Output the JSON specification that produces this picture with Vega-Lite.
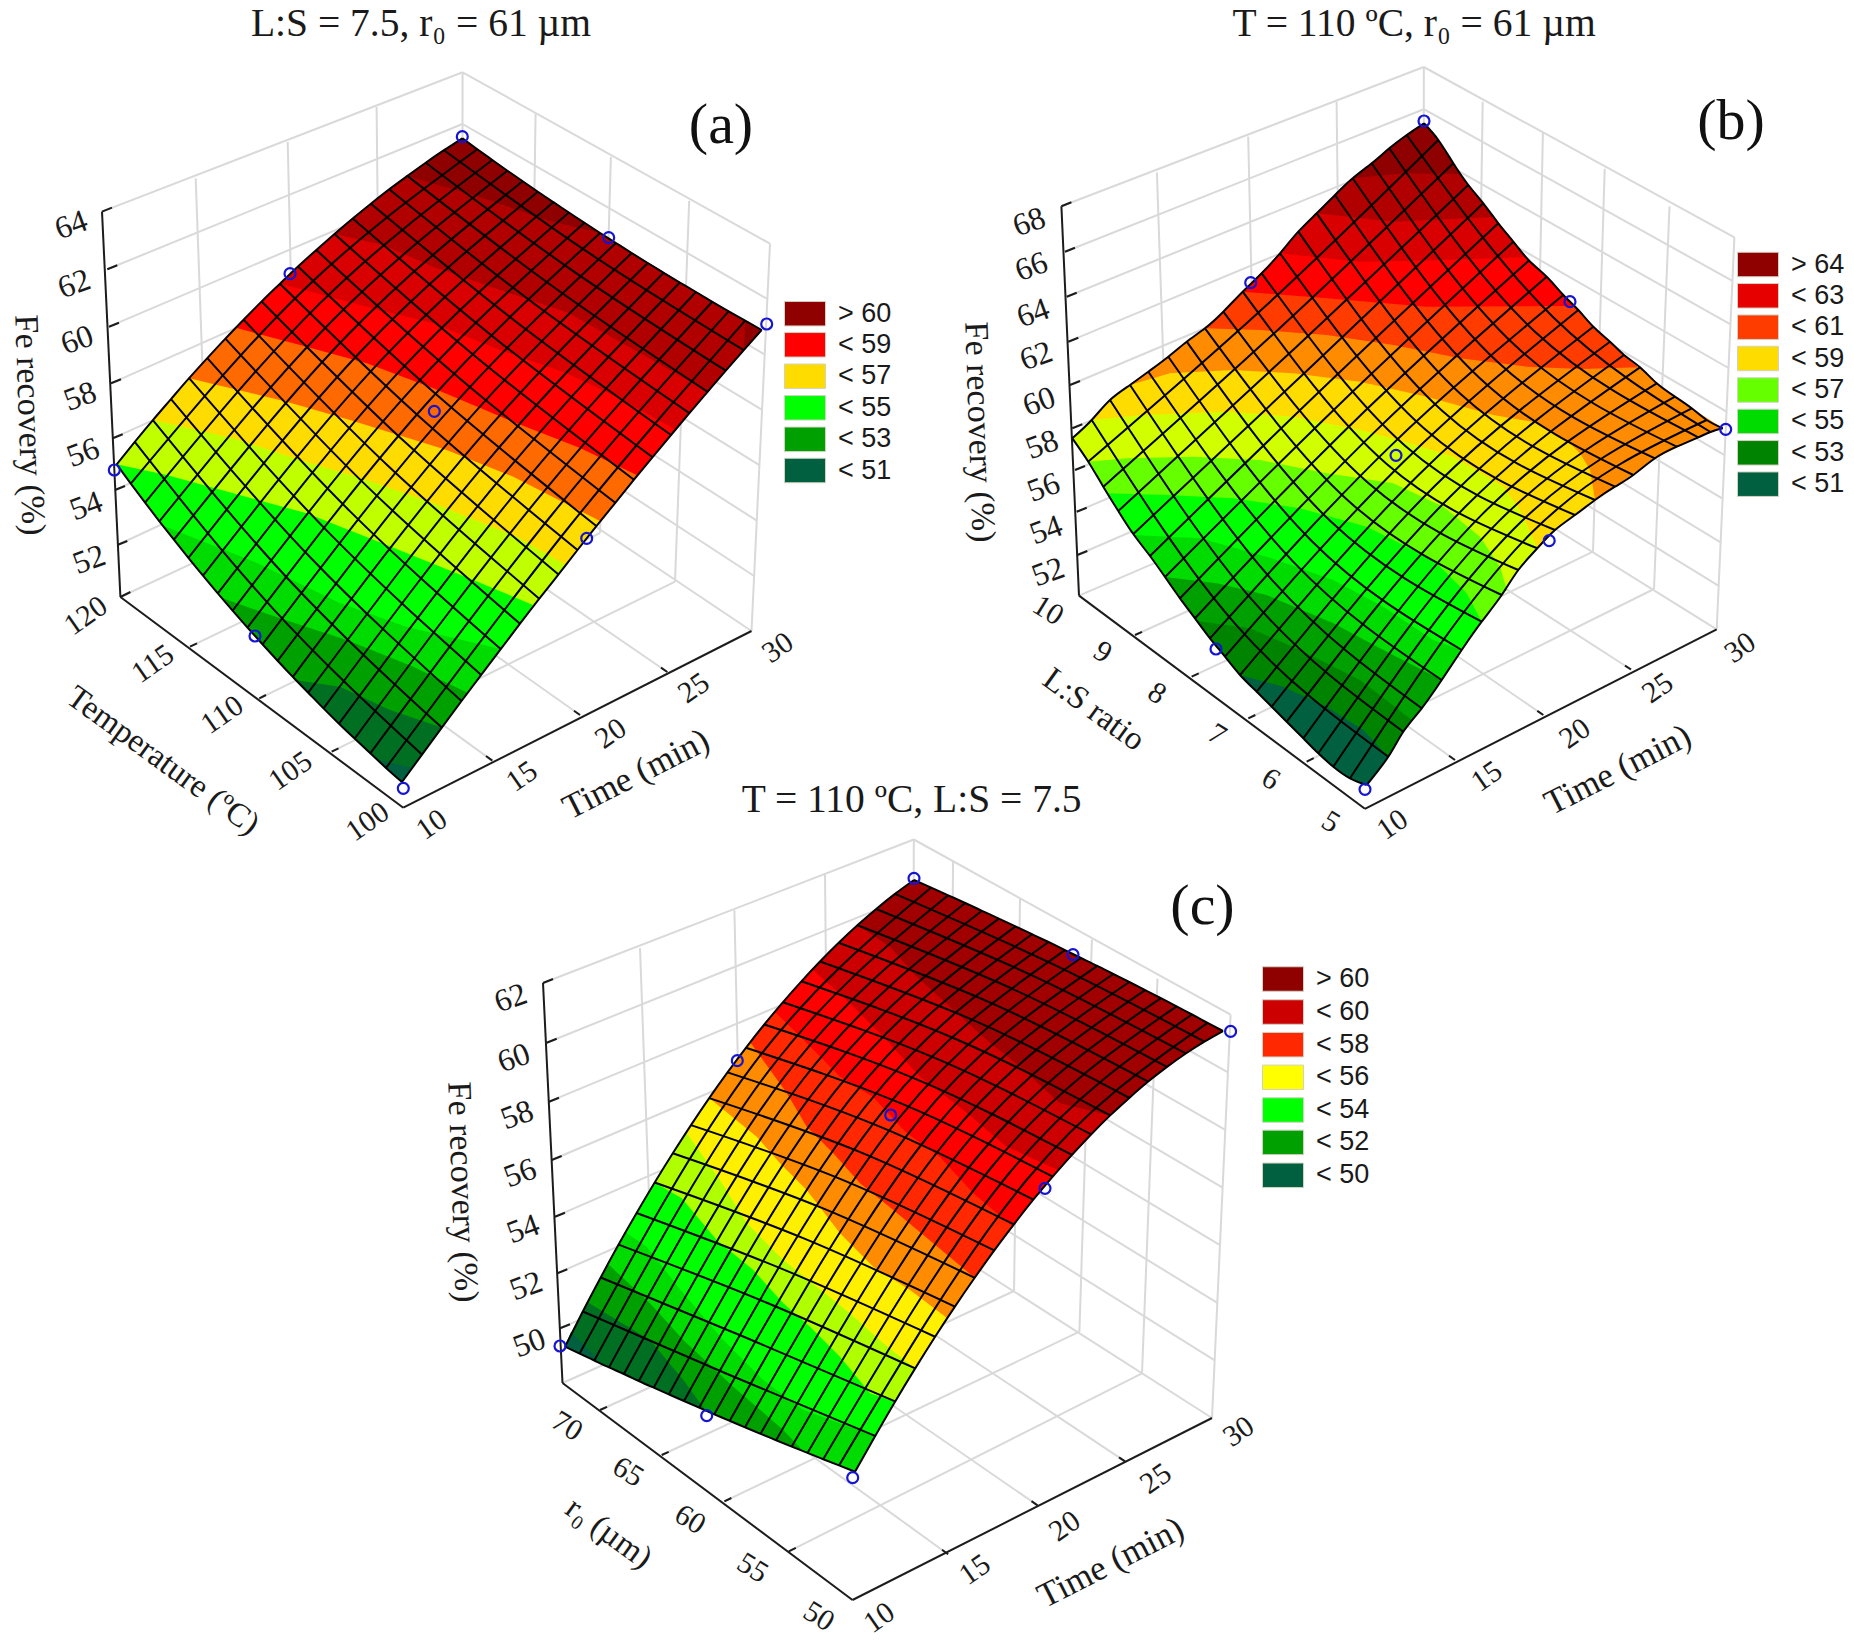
{"$schema":"https://vega.github.io/schema/vega-lite/v6.json","width":1854,"height":1642,"autosize":{"type":"fit","contains":"padding"},"padding":0,"background":"white","config":{"view":{"stroke":null}},
"datasets":{
"grid":[
{"x":102,"y":211.6,"x2":462.6,"y2":72.3},{"x":462.6,"y":72.3,"x2":770,"y2":243.7},{"x":770,"y":243.7,"x2":751.5,"y2":631},{"x":120.4,"y":597,"x2":462,"y2":437},{"x":751.5,"y":631,"x2":462,"y2":437},{"x":462.6,"y":72.3,"x2":462,"y2":437},
{"x":195.7,"y":178.4,"x2":209.2,"y2":555.4},{"x":287.7,"y":142,"x2":296.4,"y2":514.6},{"x":376.6,"y":107,"x2":380.4,"y2":475.2},
{"x":535.6,"y":114,"x2":530,"y2":483},{"x":610.9,"y":157,"x2":600,"y2":533},{"x":689.2,"y":200.9,"x2":675,"y2":581.7},
{"x":107.3,"y":269.3,"x2":462.5,"y2":124},{"x":109,"y":326.7,"x2":462.5,"y2":176},{"x":111,"y":383.3,"x2":462.4,"y2":228},{"x":112.7,"y":438.3,"x2":462.3,"y2":281},{"x":115,"y":490,"x2":462.2,"y2":333},{"x":117.3,"y":545,"x2":462.1,"y2":385},
{"x":462.5,"y":124,"x2":767.4,"y2":299},{"x":462.5,"y":176,"x2":764.7,"y2":354.5},{"x":462.4,"y":228,"x2":762.1,"y2":409.9},{"x":462.3,"y":281,"x2":759.4,"y2":465.2},{"x":462.2,"y":333,"x2":756.8,"y2":520.6},{"x":462.1,"y":385,"x2":754.1,"y2":576},
{"x":492.3,"y":760.6,"x2":209.2,"y2":555.4},{"x":580,"y":715,"x2":296.4,"y2":514.6},{"x":667.3,"y":672,"x2":380.4,"y2":475.2},{"x":190,"y":646.7,"x2":530,"y2":483},{"x":259.3,"y":698.3,"x2":600,"y2":533},{"x":331.7,"y":751.7,"x2":675,"y2":581.7},
{"x":1061.4,"y":206.2,"x2":1423.8,"y2":67},{"x":1423.8,"y":67,"x2":1734.4,"y2":237.3},{"x":1734.4,"y":237.3,"x2":1716.7,"y2":629.4},{"x":1079,"y":595.6,"x2":1424,"y2":447},{"x":1716.7,"y":629.4,"x2":1424,"y2":447},{"x":1423.8,"y":67,"x2":1424,"y2":447},
{"x":1156.9,"y":172.5,"x2":1170,"y2":556.4},{"x":1248.2,"y":136.6,"x2":1257,"y2":519},{"x":1336.6,"y":101.8,"x2":1341,"y2":482.6},
{"x":1482.7,"y":101.8,"x2":1477,"y2":480},{"x":1542.9,"y":132.8,"x2":1535,"y2":516},{"x":1604.7,"y":168.7,"x2":1593,"y2":551.7},{"x":1669.5,"y":206.2,"x2":1654,"y2":589},
{"x":1065,"y":251.7,"x2":1423.8,"y2":109.2},{"x":1066.7,"y":296.7,"x2":1423.8,"y2":151.4},{"x":1068.3,"y":341.7,"x2":1423.9,"y2":193.7},{"x":1070,"y":385,"x2":1423.9,"y2":235.9},{"x":1072.3,"y":428.3,"x2":1423.9,"y2":278.1},{"x":1075,"y":470,"x2":1423.9,"y2":320.3},{"x":1076.7,"y":511.7,"x2":1424,"y2":362.6},{"x":1077.3,"y":555,"x2":1424,"y2":404.8},
{"x":1423.8,"y":109.2,"x2":1732.4,"y2":280.9},{"x":1423.8,"y":151.4,"x2":1730.5,"y2":324.4},{"x":1423.9,"y":193.7,"x2":1728.5,"y2":368},{"x":1423.9,"y":235.9,"x2":1726.5,"y2":411.6},{"x":1423.9,"y":278.1,"x2":1724.6,"y2":455.2},{"x":1423.9,"y":320.3,"x2":1722.6,"y2":498.7},{"x":1424,"y":362.6,"x2":1720.6,"y2":542.3},{"x":1424,"y":404.8,"x2":1718.7,"y2":585.9},
{"x":1455,"y":760,"x2":1170,"y2":556.4},{"x":1543.3,"y":715,"x2":1257,"y2":519},{"x":1631,"y":669.5,"x2":1341,"y2":482.6},{"x":1135,"y":635,"x2":1477,"y2":480},{"x":1191.7,"y":676.7,"x2":1535,"y2":516},{"x":1248.3,"y":718.3,"x2":1593,"y2":551.7},{"x":1306.7,"y":761.7,"x2":1654,"y2":589},
{"x":543,"y":983,"x2":913.8,"y2":839.5},{"x":913.8,"y":839.5,"x2":1230.6,"y2":1014.7},{"x":1230.6,"y":1014.7,"x2":1212,"y2":1418},{"x":562.5,"y":1383,"x2":913,"y2":1227},{"x":1212,"y":1418,"x2":913,"y2":1227},{"x":913.8,"y":839.5,"x2":913,"y2":1227},
{"x":640,"y":948,"x2":654.3,"y2":1342},{"x":734.4,"y":910.2,"x2":743.3,"y2":1302.5},{"x":825,"y":874.6,"x2":828.9,"y2":1264.4},
{"x":953,"y":861.8,"x2":950.5,"y2":1251},{"x":1020,"y":899,"x2":1014,"y2":1291},{"x":1091.9,"y":939.6,"x2":1079.4,"y2":1331.7},{"x":1157.5,"y":978.6,"x2":1142,"y2":1373.4},
{"x":546.7,"y":1042.7,"x2":913.7,"y2":894.9},{"x":549,"y":1101.7,"x2":913.6,"y2":950.2},{"x":551.7,"y":1160,"x2":913.5,"y2":1005.6},{"x":555,"y":1216.7,"x2":913.4,"y2":1061},{"x":557.3,"y":1273.3,"x2":913.3,"y2":1116.3},{"x":560,"y":1328.3,"x2":913.1,"y2":1171.7},
{"x":913.7,"y":894.9,"x2":1228,"y2":1072.3},{"x":913.6,"y":950.2,"x2":1225.3,"y2":1129.9},{"x":913.5,"y":1005.6,"x2":1222.6,"y2":1187.6},{"x":913.4,"y":1061,"x2":1220,"y2":1245.2},{"x":913.3,"y":1116.3,"x2":1217.3,"y2":1302.8},{"x":913.1,"y":1171.7,"x2":1214.7,"y2":1360.4},
{"x":948.1,"y":1554.2,"x2":654.3,"y2":1342},{"x":1037.5,"y":1505.3,"x2":743.3,"y2":1302.5},{"x":1125,"y":1461.3,"x2":828.9,"y2":1264.4},{"x":600,"y":1410,"x2":950.5,"y2":1251},{"x":661.7,"y":1455,"x2":1014,"y2":1291},{"x":724.4,"y":1501.4,"x2":1079.4,"y2":1331.7},{"x":788.8,"y":1551.4,"x2":1142,"y2":1373.4}
],
"axes":[
{"x":102,"y":211.6,"x2":120.4,"y2":597},{"x":120.4,"y":597,"x2":403.3,"y2":807.7},{"x":403.3,"y":807.7,"x2":751.5,"y2":631},
{"x":102,"y":211.6,"x2":112,"y2":207.6},{"x":107.3,"y":269.3,"x2":117.3,"y2":265.3},{"x":109,"y":326.7,"x2":119,"y2":322.7},{"x":111,"y":383.3,"x2":121,"y2":379.3},{"x":112.7,"y":438.3,"x2":122.7,"y2":434.3},{"x":115,"y":490,"x2":125,"y2":486},{"x":117.3,"y":545,"x2":127.3,"y2":541},{"x":120.4,"y":597,"x2":130.4,"y2":592},
{"x":190,"y":646.7,"x2":197,"y2":643.3},{"x":259.3,"y":698.3,"x2":266,"y2":695},{"x":331.7,"y":751.7,"x2":338.5,"y2":748.4},{"x":492.3,"y":760.6,"x2":486,"y2":756},{"x":580,"y":715,"x2":574,"y2":710.7},{"x":667.3,"y":672,"x2":661,"y2":667.7},
{"x":1061.4,"y":206.2,"x2":1079,"y2":595.6},{"x":1079,"y":595.6,"x2":1364.9,"y2":808.8},{"x":1364.9,"y":808.8,"x2":1716.7,"y2":629.4},
{"x":1061.4,"y":206.2,"x2":1071.4,"y2":202.2},{"x":1065,"y":251.7,"x2":1075,"y2":247.7},{"x":1066.7,"y":296.7,"x2":1076.7,"y2":292.7},{"x":1068.3,"y":341.7,"x2":1078.3,"y2":337.7},{"x":1070,"y":385,"x2":1080,"y2":381},{"x":1072.3,"y":428.3,"x2":1082.3,"y2":424.3},{"x":1075,"y":470,"x2":1085,"y2":466},{"x":1076.7,"y":511.7,"x2":1086.7,"y2":507.7},{"x":1077.3,"y":555,"x2":1087.3,"y2":551},
{"x":1135,"y":635,"x2":1142,"y2":631.8},{"x":1191.7,"y":676.7,"x2":1198.7,"y2":673.4},{"x":1248.3,"y":718.3,"x2":1255.3,"y2":715},{"x":1306.7,"y":761.7,"x2":1313.7,"y2":758.2},{"x":1455,"y":760,"x2":1449,"y2":755.7},{"x":1543.3,"y":715,"x2":1537.3,"y2":710.9},{"x":1631,"y":669.5,"x2":1625,"y2":665.6},
{"x":543,"y":983,"x2":562.5,"y2":1383},{"x":562.5,"y":1383,"x2":852.5,"y2":1600},{"x":852.5,"y":1600,"x2":1212,"y2":1418},
{"x":543,"y":983,"x2":553,"y2":979},{"x":546.7,"y":1042.7,"x2":556.7,"y2":1038.7},{"x":549,"y":1101.7,"x2":559,"y2":1097.7},{"x":551.7,"y":1160,"x2":561.7,"y2":1156},{"x":555,"y":1216.7,"x2":565,"y2":1212.7},{"x":557.3,"y":1273.3,"x2":567.3,"y2":1269.3},{"x":560,"y":1328.3,"x2":570,"y2":1324.3},
{"x":600,"y":1410,"x2":607,"y2":1406.8},{"x":661.7,"y":1455,"x2":668.7,"y2":1451.8},{"x":724.4,"y":1501.4,"x2":731.4,"y2":1498},{"x":788.8,"y":1551.4,"x2":795.8,"y2":1547.9},{"x":948.1,"y":1554.2,"x2":942,"y2":1549.8},{"x":1037.5,"y":1505.3,"x2":1031.5,"y2":1501.2},{"x":1125,"y":1461.3,"x2":1119,"y2":1457.3}
],
"poly":[
{"g":"a00","b":"r1","x":462.3,"y":138.3},{"g":"a00","b":"r1","x":537.9,"y":191.8},{"g":"a00","b":"r1","x":615.9,"y":243},{"g":"a00","b":"r1","x":696,"y":292},{"g":"a00","b":"r1","x":761.7,"y":330},{"g":"a00","b":"r1","x":743.8,"y":350.2},{"g":"a00","b":"r1","x":352.7,"y":218.5},{"g":"a00","b":"r1","x":389.2,"y":189.3},{"g":"a00","b":"r1","x":425.7,"y":162.7},
{"g":"a01","b":"r2","x":407.4,"y":175.9},{"g":"a01","b":"r2","x":480,"y":197},{"g":"a01","b":"r2","x":546.7,"y":220},{"g":"a01","b":"r2","x":600,"y":233},{"g":"a01","b":"r2","x":696,"y":292},{"g":"a01","b":"r2","x":745.2,"y":320.7},{"g":"a01","b":"r2","x":743.8,"y":350.2},{"g":"a01","b":"r2","x":707.6,"y":391.8},{"g":"a01","b":"r2","x":689.4,"y":413.1},{"g":"a01","b":"r2","x":298,"y":266.5},{"g":"a01","b":"r2","x":334.5,"y":234},{"g":"a01","b":"r2","x":370.9,"y":203.7},
{"g":"a02","b":"r3","x":334.5,"y":234},{"g":"a02","b":"r3","x":383.3,"y":245},{"g":"a02","b":"r3","x":433.3,"y":266.7},{"g":"a02","b":"r3","x":500,"y":290},{"g":"a02","b":"r3","x":566.7,"y":312},{"g":"a02","b":"r3","x":646.7,"y":356.7},{"g":"a02","b":"r3","x":707.6,"y":391.8},{"g":"a02","b":"r3","x":689.4,"y":413.1},{"g":"a02","b":"r3","x":652.6,"y":457.2},{"g":"a02","b":"r3","x":243.6,"y":319.7},{"g":"a02","b":"r3","x":261.7,"y":301.4},{"g":"a02","b":"r3","x":298,"y":266.5},
{"g":"a03","b":"r4","x":280,"y":283.7},{"g":"a03","b":"r4","x":316.7,"y":293.3},{"g":"a03","b":"r4","x":366.7,"y":306.7},{"g":"a03","b":"r4","x":433.3,"y":323.3},{"g":"a03","b":"r4","x":500,"y":350},{"g":"a03","b":"r4","x":566.7,"y":373.3},{"g":"a03","b":"r4","x":616.7,"y":396.7},{"g":"a03","b":"r4","x":676,"y":430},{"g":"a03","b":"r4","x":652.6,"y":457.2},{"g":"a03","b":"r4","x":615.3,"y":502.8},{"g":"a03","b":"r4","x":207.3,"y":358.1},{"g":"a03","b":"r4","x":225.4,"y":338.6},{"g":"a03","b":"r4","x":243.6,"y":319.7},{"g":"a03","b":"r4","x":261.7,"y":301.4},
{"g":"a04","b":"o1","x":236.7,"y":328},{"g":"a04","b":"o1","x":300,"y":345},{"g":"a04","b":"o1","x":366.7,"y":363.3},{"g":"a04","b":"o1","x":433.3,"y":388.3},{"g":"a04","b":"o1","x":516.7,"y":423.3},{"g":"a04","b":"o1","x":580,"y":448},{"g":"a04","b":"o1","x":636.7,"y":475},{"g":"a04","b":"o1","x":615.3,"y":502.8},{"g":"a04","b":"o1","x":596.4,"y":526.1},{"g":"a04","b":"o1","x":577.5,"y":550},{"g":"a04","b":"o1","x":171,"y":399.1},{"g":"a04","b":"o1","x":189.1,"y":378.2},{"g":"a04","b":"o1","x":207.3,"y":358.1},
{"g":"a05","b":"y1","x":189.1,"y":378.2},{"g":"a05","b":"y1","x":286.7,"y":401.7},{"g":"a05","b":"y1","x":350,"y":420},{"g":"a05","b":"y1","x":446.7,"y":450},{"g":"a05","b":"y1","x":513.3,"y":476.7},{"g":"a05","b":"y1","x":600,"y":521},{"g":"a05","b":"y1","x":577.5,"y":550},{"g":"a05","b":"y1","x":558.5,"y":574.4},{"g":"a05","b":"y1","x":539.3,"y":598.7},{"g":"a05","b":"y1","x":134.8,"y":441.9},{"g":"a05","b":"y1","x":152.9,"y":420.1},{"g":"a05","b":"y1","x":171,"y":399.1},
{"g":"a06","b":"l1","x":152.9,"y":420.1},{"g":"a06","b":"l1","x":233.3,"y":438.3},{"g":"a06","b":"l1","x":300,"y":460},{"g":"a06","b":"l1","x":366.7,"y":480},{"g":"a06","b":"l1","x":433.3,"y":503.3},{"g":"a06","b":"l1","x":516.7,"y":536.7},{"g":"a06","b":"l1","x":566,"y":565},{"g":"a06","b":"l1","x":539.3,"y":598.7},{"g":"a06","b":"l1","x":520,"y":623.7},{"g":"a06","b":"l1","x":116.7,"y":464.3},{"g":"a06","b":"l1","x":134.8,"y":441.9},
{"g":"a07","b":"g1","x":116.7,"y":464.3},{"g":"a07","b":"g1","x":166.7,"y":475},{"g":"a07","b":"g1","x":233.3,"y":493.3},{"g":"a07","b":"g1","x":306.7,"y":513.3},{"g":"a07","b":"g1","x":386.7,"y":545},{"g":"a07","b":"g1","x":473.3,"y":580},{"g":"a07","b":"g1","x":533,"y":605},{"g":"a07","b":"g1","x":520,"y":623.7},{"g":"a07","b":"g1","x":500.7,"y":649.1},{"g":"a07","b":"g1","x":481.2,"y":674.9},{"g":"a07","b":"g1","x":173.9,"y":539.7},{"g":"a07","b":"g1","x":159.4,"y":521.3},{"g":"a07","b":"g1","x":145.1,"y":502.6},{"g":"a07","b":"g1","x":130.8,"y":483.6},
{"g":"a08","b":"g2","x":164,"y":526},{"g":"a08","b":"g2","x":257,"y":563},{"g":"a08","b":"g2","x":340,"y":603},{"g":"a08","b":"g2","x":407,"y":627},{"g":"a08","b":"g2","x":500.7,"y":649.1},{"g":"a08","b":"g2","x":481.2,"y":674.9},{"g":"a08","b":"g2","x":461.5,"y":701},{"g":"a08","b":"g2","x":441.8,"y":727.6},{"g":"a08","b":"g2","x":232.6,"y":610.6},{"g":"a08","b":"g2","x":217.8,"y":593.3},{"g":"a08","b":"g2","x":203,"y":575.7},{"g":"a08","b":"g2","x":188.4,"y":557.9},{"g":"a08","b":"g2","x":173.9,"y":539.7},
{"g":"a09","b":"g3","x":222,"y":598},{"g":"a09","b":"g3","x":280,"y":618.3},{"g":"a09","b":"g3","x":346.7,"y":640},{"g":"a09","b":"g3","x":413.3,"y":666.7},{"g":"a09","b":"g3","x":468,"y":693},{"g":"a09","b":"g3","x":441.8,"y":727.6},{"g":"a09","b":"g3","x":422,"y":754.6},{"g":"a09","b":"g3","x":323.5,"y":708.4},{"g":"a09","b":"g3","x":308.2,"y":692.7},{"g":"a09","b":"g3","x":292.8,"y":676.9},{"g":"a09","b":"g3","x":277.6,"y":660.8},{"g":"a09","b":"g3","x":262.5,"y":644.3},{"g":"a09","b":"g3","x":247.5,"y":627.6},{"g":"a09","b":"g3","x":232.6,"y":610.6},
{"g":"a10","b":"g4","x":295,"y":680},{"g":"a10","b":"g4","x":340,"y":686.7},{"g":"a10","b":"g4","x":390,"y":710},{"g":"a10","b":"g4","x":441.8,"y":727.6},{"g":"a10","b":"g4","x":422,"y":754.6},{"g":"a10","b":"g4","x":402,"y":782},{"g":"a10","b":"g4","x":386,"y":767.9},{"g":"a10","b":"g4","x":354.6,"y":738.6},{"g":"a10","b":"g4","x":323.5,"y":708.4},{"g":"a10","b":"g4","x":308.2,"y":692.7},
{"g":"a11","b":"g5","x":378,"y":760},{"g":"a11","b":"g5","x":412,"y":768},{"g":"a11","b":"g5","x":402,"y":782},{"g":"a11","b":"g5","x":386,"y":767.9},
{"g":"b00","b":"r1","x":1424,"y":123.3},{"g":"b00","b":"r1","x":1438.3,"y":140},{"g":"b00","b":"r1","x":1453.3,"y":163.3},{"g":"b00","b":"r1","x":1468.3,"y":185},{"g":"b00","b":"r1","x":1498.3,"y":223.3},{"g":"b00","b":"r1","x":1529,"y":260.5},{"g":"b00","b":"r1","x":1280,"y":253.3},{"g":"b00","b":"r1","x":1316.7,"y":213.3},{"g":"b00","b":"r1","x":1352.7,"y":178.3},{"g":"b00","b":"r1","x":1389.3,"y":148.3},{"g":"b00","b":"r1","x":1406.7,"y":135},
{"g":"b01","b":"r2","x":1352.7,"y":178.3},{"g":"b01","b":"r2","x":1403.3,"y":173.3},{"g":"b01","b":"r2","x":1460,"y":174},{"g":"b01","b":"r2","x":1468.3,"y":185},{"g":"b01","b":"r2","x":1498.3,"y":223.3},{"g":"b01","b":"r2","x":1529,"y":260.5},{"g":"b01","b":"r2","x":1563.3,"y":295},{"g":"b01","b":"r2","x":1242.7,"y":291.7},{"g":"b01","b":"r2","x":1280,"y":253.3},{"g":"b01","b":"r2","x":1316.7,"y":213.3},
{"g":"b02","b":"r3","x":1316.7,"y":213.3},{"g":"b02","b":"r3","x":1393.3,"y":221.7},{"g":"b02","b":"r3","x":1494,"y":217},{"g":"b02","b":"r3","x":1529,"y":260.5},{"g":"b02","b":"r3","x":1563.3,"y":295},{"g":"b02","b":"r3","x":1578.3,"y":310},{"g":"b02","b":"r3","x":1223.3,"y":311.7},{"g":"b02","b":"r3","x":1242.7,"y":291.7},{"g":"b02","b":"r3","x":1280,"y":253.3},
{"g":"b03","b":"r4","x":1280,"y":253.3},{"g":"b03","b":"r4","x":1360,"y":261.7},{"g":"b03","b":"r4","x":1443.3,"y":260},{"g":"b03","b":"r4","x":1526,"y":257},{"g":"b03","b":"r4","x":1563.3,"y":295},{"g":"b03","b":"r4","x":1593.3,"y":326.7},{"g":"b03","b":"r4","x":1223.3,"y":311.7},{"g":"b03","b":"r4","x":1242.7,"y":291.7},
{"g":"b04","b":"r5","x":1242.7,"y":291.7},{"g":"b04","b":"r5","x":1326.7,"y":298.3},{"g":"b04","b":"r5","x":1426.7,"y":306.7},{"g":"b04","b":"r5","x":1573,"y":306},{"g":"b04","b":"r5","x":1593.3,"y":326.7},{"g":"b04","b":"r5","x":1624,"y":355},{"g":"b04","b":"r5","x":1656.7,"y":383.3},{"g":"b04","b":"r5","x":1186.7,"y":341.7},{"g":"b04","b":"r5","x":1205,"y":328.3},{"g":"b04","b":"r5","x":1223.3,"y":311.7},
{"g":"b05","b":"o2","x":1205,"y":328.3},{"g":"b05","b":"o2","x":1260,"y":330},{"g":"b05","b":"o2","x":1326.7,"y":335},{"g":"b05","b":"o2","x":1393.3,"y":345},{"g":"b05","b":"o2","x":1460,"y":358.3},{"g":"b05","b":"o2","x":1526.7,"y":366.7},{"g":"b05","b":"o2","x":1580,"y":369},{"g":"b05","b":"o2","x":1640,"y":367.3},{"g":"b05","b":"o2","x":1656.7,"y":383.3},{"g":"b05","b":"o2","x":1691.7,"y":408.3},{"g":"b05","b":"o2","x":1722.7,"y":428.3},{"g":"b05","b":"o2","x":1698.3,"y":437.3},{"g":"b05","b":"o2","x":1655,"y":458.3},{"g":"b05","b":"o2","x":1615,"y":486.7},{"g":"b05","b":"o2","x":1595,"y":500},{"g":"b05","b":"o2","x":1575,"y":515},{"g":"b05","b":"o2","x":1110,"y":400},{"g":"b05","b":"o2","x":1130,"y":385},{"g":"b05","b":"o2","x":1148.3,"y":371.7},{"g":"b05","b":"o2","x":1168.3,"y":356.7},{"g":"b05","b":"o2","x":1186.7,"y":341.7},
{"g":"b06","b":"y1","x":1130,"y":385},{"g":"b06","b":"y1","x":1170,"y":373.3},{"g":"b06","b":"y1","x":1233.3,"y":370},{"g":"b06","b":"y1","x":1293.3,"y":373.3},{"g":"b06","b":"y1","x":1360,"y":381.7},{"g":"b06","b":"y1","x":1426.7,"y":396.7},{"g":"b06","b":"y1","x":1493.3,"y":415},{"g":"b06","b":"y1","x":1533.3,"y":422},{"g":"b06","b":"y1","x":1566.7,"y":440},{"g":"b06","b":"y1","x":1580,"y":453.3},{"g":"b06","b":"y1","x":1590,"y":470},{"g":"b06","b":"y1","x":1595,"y":500},{"g":"b06","b":"y1","x":1575,"y":515},{"g":"b06","b":"y1","x":1555,"y":530},{"g":"b06","b":"y1","x":1537.3,"y":548.3},{"g":"b06","b":"y1","x":1518.3,"y":570},{"g":"b06","b":"y1","x":1072.3,"y":438.3},{"g":"b06","b":"y1","x":1091.7,"y":420},{"g":"b06","b":"y1","x":1110,"y":400},
{"g":"b07","b":"l2","x":1091.7,"y":420},{"g":"b07","b":"l2","x":1143.3,"y":415},{"g":"b07","b":"l2","x":1226.7,"y":411.7},{"g":"b07","b":"l2","x":1293.3,"y":416.7},{"g":"b07","b":"l2","x":1360,"y":430},{"g":"b07","b":"l2","x":1410,"y":443.3},{"g":"b07","b":"l2","x":1453.3,"y":456.7},{"g":"b07","b":"l2","x":1503.3,"y":486.7},{"g":"b07","b":"l2","x":1520,"y":510},{"g":"b07","b":"l2","x":1537.3,"y":548.3},{"g":"b07","b":"l2","x":1518.3,"y":570},{"g":"b07","b":"l2","x":1501.7,"y":595},{"g":"b07","b":"l2","x":1481.7,"y":621.7},{"g":"b07","b":"l2","x":1103.3,"y":486.7},{"g":"b07","b":"l2","x":1088.3,"y":461.7},{"g":"b07","b":"l2","x":1072.3,"y":438.3},
{"g":"b08","b":"l3","x":1088.3,"y":461.7},{"g":"b08","b":"l3","x":1126.7,"y":458.3},{"g":"b08","b":"l3","x":1193.3,"y":456.7},{"g":"b08","b":"l3","x":1260,"y":460},{"g":"b08","b":"l3","x":1326.7,"y":473.3},{"g":"b08","b":"l3","x":1393.3,"y":483.3},{"g":"b08","b":"l3","x":1443.3,"y":506.7},{"g":"b08","b":"l3","x":1480,"y":536.7},{"g":"b08","b":"l3","x":1500,"y":566.7},{"g":"b08","b":"l3","x":1507,"y":590},{"g":"b08","b":"l3","x":1501.7,"y":595},{"g":"b08","b":"l3","x":1481.7,"y":621.7},{"g":"b08","b":"l3","x":1461.7,"y":650},{"g":"b08","b":"l3","x":1133.3,"y":534},{"g":"b08","b":"l3","x":1118.3,"y":511},{"g":"b08","b":"l3","x":1103.3,"y":486.7},
{"g":"b09","b":"g1","x":1106.7,"y":493.3},{"g":"b09","b":"g1","x":1166.7,"y":495},{"g":"b09","b":"g1","x":1233.3,"y":498.3},{"g":"b09","b":"g1","x":1300,"y":508.3},{"g":"b09","b":"g1","x":1366.7,"y":526.7},{"g":"b09","b":"g1","x":1433.3,"y":560},{"g":"b09","b":"g1","x":1466.7,"y":593.3},{"g":"b09","b":"g1","x":1481.7,"y":621.7},{"g":"b09","b":"g1","x":1461.7,"y":650},{"g":"b09","b":"g1","x":1441.7,"y":680},{"g":"b09","b":"g1","x":1165,"y":577},{"g":"b09","b":"g1","x":1150,"y":556},{"g":"b09","b":"g1","x":1133.3,"y":534},{"g":"b09","b":"g1","x":1118.3,"y":511},
{"g":"b10","b":"g2","x":1135,"y":535},{"g":"b10","b":"g2","x":1200,"y":538.3},{"g":"b10","b":"g2","x":1266.7,"y":556.7},{"g":"b10","b":"g2","x":1333.3,"y":580},{"g":"b10","b":"g2","x":1383.3,"y":606.7},{"g":"b10","b":"g2","x":1433.3,"y":640},{"g":"b10","b":"g2","x":1461.7,"y":650},{"g":"b10","b":"g2","x":1441.7,"y":680},{"g":"b10","b":"g2","x":1421.7,"y":708.3},{"g":"b10","b":"g2","x":1195,"y":618.3},{"g":"b10","b":"g2","x":1180,"y":598.3},{"g":"b10","b":"g2","x":1165,"y":577},{"g":"b10","b":"g2","x":1150,"y":556},
{"g":"b11","b":"g3","x":1165,"y":577},{"g":"b11","b":"g3","x":1216.7,"y":583.3},{"g":"b11","b":"g3","x":1266.7,"y":595},{"g":"b11","b":"g3","x":1333.3,"y":623.3},{"g":"b11","b":"g3","x":1383.3,"y":650},{"g":"b11","b":"g3","x":1441.7,"y":680},{"g":"b11","b":"g3","x":1421.7,"y":708.3},{"g":"b11","b":"g3","x":1403.3,"y":731.7},{"g":"b11","b":"g3","x":1225,"y":656.7},{"g":"b11","b":"g3","x":1210,"y":638.3},{"g":"b11","b":"g3","x":1195,"y":618.3},{"g":"b11","b":"g3","x":1180,"y":598.3},
{"g":"b12","b":"g6","x":1196.7,"y":621},{"g":"b12","b":"g6","x":1250,"y":628.3},{"g":"b12","b":"g6","x":1300,"y":650},{"g":"b12","b":"g6","x":1360,"y":680},{"g":"b12","b":"g6","x":1412,"y":720},{"g":"b12","b":"g6","x":1403.3,"y":731.7},{"g":"b12","b":"g6","x":1388.3,"y":756.7},{"g":"b12","b":"g6","x":1256.7,"y":691.7},{"g":"b12","b":"g6","x":1240,"y":675},{"g":"b12","b":"g6","x":1225,"y":656.7},{"g":"b12","b":"g6","x":1210,"y":638.3},
{"g":"b13","b":"g5","x":1240,"y":675},{"g":"b13","b":"g5","x":1283.3,"y":686.7},{"g":"b13","b":"g5","x":1326.7,"y":706.7},{"g":"b13","b":"g5","x":1363.3,"y":730},{"g":"b13","b":"g5","x":1388.3,"y":756.7},{"g":"b13","b":"g5","x":1366.7,"y":785},{"g":"b13","b":"g5","x":1350,"y":778.3},{"g":"b13","b":"g5","x":1333.3,"y":766.7},{"g":"b13","b":"g5","x":1303.3,"y":738.3},{"g":"b13","b":"g5","x":1271.7,"y":706.7},{"g":"b13","b":"g5","x":1256.7,"y":691.7},
{"g":"c00","b":"r7","x":914,"y":880},{"g":"c00","b":"r7","x":998.8,"y":918.6},{"g":"c00","b":"r7","x":1081,"y":958},{"g":"c00","b":"r7","x":1160.9,"y":998.2},{"g":"c00","b":"r7","x":1223,"y":1031},{"g":"c00","b":"r7","x":1185.8,"y":1053.5},{"g":"c00","b":"r7","x":1148.2,"y":1081.6},{"g":"c00","b":"r7","x":1110.2,"y":1115.4},{"g":"c00","b":"r7","x":1052.7,"y":1176.6},{"g":"c00","b":"r7","x":782.8,"y":1002.3},{"g":"c00","b":"r7","x":801.4,"y":981.3},{"g":"c00","b":"r7","x":838.7,"y":942.8},{"g":"c00","b":"r7","x":876.2,"y":909},
{"g":"c01","b":"c1","x":857.4,"y":925.3},{"g":"c01","b":"c1","x":890,"y":946.7},{"g":"c01","b":"c1","x":916.7,"y":976.7},{"g":"c01","b":"c1","x":950,"y":1006.7},{"g":"c01","b":"c1","x":986.7,"y":1040},{"g":"c01","b":"c1","x":1020,"y":1066.7},{"g":"c01","b":"c1","x":1060,"y":1103.3},{"g":"c01","b":"c1","x":1110.2,"y":1115.4},{"g":"c01","b":"c1","x":1071.9,"y":1154.8},{"g":"c01","b":"c1","x":1052.7,"y":1176.6},{"g":"c01","b":"c1","x":1033.3,"y":1199.7},{"g":"c01","b":"c1","x":764.3,"y":1024.5},{"g":"c01","b":"c1","x":782.8,"y":1002.3},{"g":"c01","b":"c1","x":801.4,"y":981.3},{"g":"c01","b":"c1","x":820,"y":961.5},{"g":"c01","b":"c1","x":838.7,"y":942.8},
{"g":"c02","b":"r4","x":813.3,"y":970},{"g":"c02","b":"r4","x":850,"y":1003.3},{"g":"c02","b":"r4","x":883.3,"y":1036.7},{"g":"c02","b":"r4","x":920,"y":1076.7},{"g":"c02","b":"r4","x":963.3,"y":1110},{"g":"c02","b":"r4","x":1006.7,"y":1146.7},{"g":"c02","b":"r4","x":1058,"y":1170},{"g":"c02","b":"r4","x":1033.3,"y":1199.7},{"g":"c02","b":"r4","x":1013.9,"y":1224.4},{"g":"c02","b":"r4","x":994.3,"y":1250.4},{"g":"c02","b":"r4","x":745.9,"y":1047.8},{"g":"c02","b":"r4","x":764.3,"y":1024.5},{"g":"c02","b":"r4","x":782.8,"y":1002.3},
{"g":"c03","b":"r6","x":775,"y":1012},{"g":"c03","b":"r6","x":806.7,"y":1043},{"g":"c03","b":"r6","x":840,"y":1076.7},{"g":"c03","b":"r6","x":873,"y":1097},{"g":"c03","b":"r6","x":906.7,"y":1133},{"g":"c03","b":"r6","x":940,"y":1157},{"g":"c03","b":"r6","x":973.3,"y":1193.3},{"g":"c03","b":"r6","x":1012,"y":1226},{"g":"c03","b":"r6","x":994.3,"y":1250.4},{"g":"c03","b":"r6","x":974.7,"y":1277.8},{"g":"c03","b":"r6","x":954.9,"y":1306.6},{"g":"c03","b":"r6","x":709.2,"y":1098.1},{"g":"c03","b":"r6","x":727.5,"y":1072.4},{"g":"c03","b":"r6","x":745.9,"y":1047.8},{"g":"c03","b":"r6","x":764.3,"y":1024.5},
{"g":"c04","b":"o2","x":750,"y":1042},{"g":"c04","b":"o2","x":786.7,"y":1093},{"g":"c04","b":"o2","x":806.7,"y":1126.7},{"g":"c04","b":"o2","x":833.3,"y":1153.3},{"g":"c04","b":"o2","x":860,"y":1183.3},{"g":"c04","b":"o2","x":893.3,"y":1210},{"g":"c04","b":"o2","x":933.3,"y":1243.3},{"g":"c04","b":"o2","x":974.7,"y":1277.8},{"g":"c04","b":"o2","x":954.9,"y":1306.6},{"g":"c04","b":"o2","x":935.1,"y":1336.8},{"g":"c04","b":"o2","x":915.2,"y":1368.4},{"g":"c04","b":"o2","x":672.8,"y":1153.3},{"g":"c04","b":"o2","x":691,"y":1125.1},{"g":"c04","b":"o2","x":709.2,"y":1098.1},{"g":"c04","b":"o2","x":727.5,"y":1072.4},
{"g":"c05","b":"y2","x":709.2,"y":1098.1},{"g":"c05","b":"y2","x":756.7,"y":1136.7},{"g":"c05","b":"y2","x":780,"y":1163.3},{"g":"c05","b":"y2","x":806.7,"y":1190},{"g":"c05","b":"y2","x":840,"y":1233.3},{"g":"c05","b":"y2","x":873.3,"y":1266.7},{"g":"c05","b":"y2","x":910,"y":1290},{"g":"c05","b":"y2","x":947,"y":1318},{"g":"c05","b":"y2","x":935.1,"y":1336.8},{"g":"c05","b":"y2","x":915.2,"y":1368.4},{"g":"c05","b":"y2","x":895.2,"y":1401.4},{"g":"c05","b":"y2","x":654.7,"y":1182.5},{"g":"c05","b":"y2","x":672.8,"y":1153.3},{"g":"c05","b":"y2","x":691,"y":1125.1},
{"g":"c06","b":"l4","x":686,"y":1132},{"g":"c06","b":"l4","x":720,"y":1180},{"g":"c06","b":"l4","x":746.7,"y":1223},{"g":"c06","b":"l4","x":783.3,"y":1260},{"g":"c06","b":"l4","x":816.7,"y":1286.7},{"g":"c06","b":"l4","x":850,"y":1313.3},{"g":"c06","b":"l4","x":883.3,"y":1343.3},{"g":"c06","b":"l4","x":915.2,"y":1368.4},{"g":"c06","b":"l4","x":895.2,"y":1401.4},{"g":"c06","b":"l4","x":875.2,"y":1435.9},{"g":"c06","b":"l4","x":636.6,"y":1213},{"g":"c06","b":"l4","x":654.7,"y":1182.5},{"g":"c06","b":"l4","x":672.8,"y":1153.3},
{"g":"c07","b":"g1","x":654.7,"y":1182.5},{"g":"c07","b":"g1","x":681.7,"y":1198.3},{"g":"c07","b":"g1","x":716.7,"y":1240},{"g":"c07","b":"g1","x":753.3,"y":1270},{"g":"c07","b":"g1","x":783.3,"y":1303.3},{"g":"c07","b":"g1","x":810,"y":1326.7},{"g":"c07","b":"g1","x":840,"y":1356.7},{"g":"c07","b":"g1","x":870,"y":1393.3},{"g":"c07","b":"g1","x":895.2,"y":1401.4},{"g":"c07","b":"g1","x":875.2,"y":1435.9},{"g":"c07","b":"g1","x":855,"y":1471.7},{"g":"c07","b":"g1","x":600.7,"y":1277.5},{"g":"c07","b":"g1","x":618.6,"y":1244.6},{"g":"c07","b":"g1","x":636.6,"y":1213},
{"g":"c08","b":"g2","x":625,"y":1232},{"g":"c08","b":"g2","x":646.7,"y":1246.7},{"g":"c08","b":"g2","x":683.3,"y":1293.3},{"g":"c08","b":"g2","x":723.3,"y":1340},{"g":"c08","b":"g2","x":763.3,"y":1380},{"g":"c08","b":"g2","x":803.3,"y":1410},{"g":"c08","b":"g2","x":875.2,"y":1435.9},{"g":"c08","b":"g2","x":855,"y":1471.7},{"g":"c08","b":"g2","x":807.5,"y":1452.9},{"g":"c08","b":"g2","x":760.6,"y":1433.8},{"g":"c08","b":"g2","x":582.8,"y":1311.5},{"g":"c08","b":"g2","x":600.7,"y":1277.5},{"g":"c08","b":"g2","x":618.6,"y":1244.6},
{"g":"c09","b":"g3","x":608,"y":1264},{"g":"c09","b":"g3","x":650,"y":1303.3},{"g":"c09","b":"g3","x":683.3,"y":1340},{"g":"c09","b":"g3","x":733.3,"y":1386.7},{"g":"c09","b":"g3","x":783.3,"y":1430},{"g":"c09","b":"g3","x":803,"y":1451},{"g":"c09","b":"g3","x":760.6,"y":1433.8},{"g":"c09","b":"g3","x":714.3,"y":1414.3},{"g":"c09","b":"g3","x":668.8,"y":1394.4},{"g":"c09","b":"g3","x":623.9,"y":1374},{"g":"c09","b":"g3","x":579.6,"y":1353.6},{"g":"c09","b":"g3","x":565,"y":1346.7},{"g":"c09","b":"g3","x":582.8,"y":1311.5},{"g":"c09","b":"g3","x":600.7,"y":1277.5},
{"g":"c10","b":"g4","x":587,"y":1302},{"g":"c10","b":"g4","x":650,"y":1340},{"g":"c10","b":"g4","x":683.3,"y":1380},{"g":"c10","b":"g4","x":706,"y":1411},{"g":"c10","b":"g4","x":668.8,"y":1394.4},{"g":"c10","b":"g4","x":623.9,"y":1374},{"g":"c10","b":"g4","x":579.6,"y":1353.6},{"g":"c10","b":"g4","x":565,"y":1346.7},{"g":"c10","b":"g4","x":582.8,"y":1311.5},
{"g":"c11","b":"g5","x":571,"y":1332},{"g":"c11","b":"g5","x":600,"y":1361},{"g":"c11","b":"g5","x":579.6,"y":1353.6},{"g":"c11","b":"g5","x":565,"y":1346.7}
],
"mesh":[
{"m":"a0","x":116.7,"y":464.3},{"m":"a0","x":134.8,"y":441.9},{"m":"a0","x":152.9,"y":420.1},{"m":"a0","x":171,"y":399.1},{"m":"a0","x":189.1,"y":378.2},{"m":"a0","x":207.3,"y":358.1},{"m":"a0","x":225.4,"y":338.6},{"m":"a0","x":243.6,"y":319.7},{"m":"a0","x":261.7,"y":301.4},{"m":"a0","x":280,"y":283.7},{"m":"a0","x":298,"y":266.5},{"m":"a0","x":316.3,"y":250},{"m":"a0","x":334.5,"y":234},{"m":"a0","x":352.7,"y":218.5},{"m":"a0","x":370.9,"y":203.7},{"m":"a0","x":389.2,"y":189.3},{"m":"a0","x":407.4,"y":175.9},{"m":"a0","x":425.7,"y":162.7},{"m":"a0","x":444,"y":150.2},{"m":"a0","x":462.3,"y":138.3},
{"m":"a1","x":462.3,"y":138.3},{"m":"a1","x":477.3,"y":149.2},{"m":"a1","x":492.3,"y":160},{"m":"a1","x":507.4,"y":170.7},{"m":"a1","x":522.7,"y":181.2},{"m":"a1","x":537.9,"y":191.8},{"m":"a1","x":553.4,"y":202.2},{"m":"a1","x":568.9,"y":212.5},{"m":"a1","x":584.5,"y":222.8},{"m":"a1","x":600.1,"y":233},{"m":"a1","x":615.9,"y":243},{"m":"a1","x":631.7,"y":253},{"m":"a1","x":647.7,"y":263},{"m":"a1","x":663.7,"y":272.8},{"m":"a1","x":679.8,"y":282.5},{"m":"a1","x":696,"y":292},{"m":"a1","x":712.3,"y":301.8},{"m":"a1","x":728.7,"y":311.3},{"m":"a1","x":745.2,"y":320.7},{"m":"a1","x":761.7,"y":330},
{"m":"a2","x":761.7,"y":330},{"m":"a2","x":743.8,"y":350.2},{"m":"a2","x":725.8,"y":370.7},{"m":"a2","x":707.6,"y":391.8},{"m":"a2","x":689.4,"y":413.1},{"m":"a2","x":671,"y":435},{"m":"a2","x":652.6,"y":457.2},{"m":"a2","x":634,"y":479.7},{"m":"a2","x":615.3,"y":502.8},{"m":"a2","x":596.4,"y":526.1},{"m":"a2","x":577.5,"y":550},{"m":"a2","x":558.5,"y":574.4},{"m":"a2","x":539.3,"y":598.7},{"m":"a2","x":520,"y":623.7},{"m":"a2","x":500.7,"y":649.1},{"m":"a2","x":481.2,"y":674.9},{"m":"a2","x":461.5,"y":701},{"m":"a2","x":441.8,"y":727.6},{"m":"a2","x":422,"y":754.6},{"m":"a2","x":402,"y":782},
{"m":"a3","x":402,"y":782},{"m":"a3","x":386,"y":767.9},{"m":"a3","x":370.3,"y":753.3},{"m":"a3","x":354.6,"y":738.6},{"m":"a3","x":339,"y":723.7},{"m":"a3","x":323.5,"y":708.4},{"m":"a3","x":308.2,"y":692.7},{"m":"a3","x":292.8,"y":676.9},{"m":"a3","x":277.6,"y":660.8},{"m":"a3","x":262.5,"y":644.3},{"m":"a3","x":247.5,"y":627.6},{"m":"a3","x":232.6,"y":610.6},{"m":"a3","x":217.8,"y":593.3},{"m":"a3","x":203,"y":575.7},{"m":"a3","x":188.4,"y":557.9},{"m":"a3","x":173.9,"y":539.7},{"m":"a3","x":159.4,"y":521.3},{"m":"a3","x":145.1,"y":502.6},{"m":"a3","x":130.8,"y":483.6},{"m":"a3","x":116.7,"y":464.3},
{"m":"ai1","x":134.8,"y":441.9},{"m":"ai1","x":274.1,"y":609.9},{"m":"ai1","x":422,"y":754.6},
{"m":"ai2","x":152.9,"y":420.1},{"m":"ai2","x":293.1,"y":584.3},{"m":"ai2","x":441.8,"y":727.6},
{"m":"ai3","x":171,"y":399.1},{"m":"ai3","x":312.1,"y":559.3},{"m":"ai3","x":461.5,"y":701},
{"m":"ai4","x":189.1,"y":378.2},{"m":"ai4","x":331,"y":534.9},{"m":"ai4","x":481.2,"y":674.9},
{"m":"ai5","x":207.3,"y":358.1},{"m":"ai5","x":349.8,"y":511.1},{"m":"ai5","x":500.7,"y":649.1},
{"m":"ai6","x":225.4,"y":338.6},{"m":"ai6","x":368.6,"y":487.9},{"m":"ai6","x":520,"y":623.7},
{"m":"ai7","x":243.6,"y":319.7},{"m":"ai7","x":387.4,"y":465.2},{"m":"ai7","x":539.3,"y":598.7},
{"m":"ai8","x":261.7,"y":301.4},{"m":"ai8","x":406.1,"y":443.1},{"m":"ai8","x":558.5,"y":574.4},
{"m":"ai9","x":280,"y":283.7},{"m":"ai9","x":424.7,"y":421.5},{"m":"ai9","x":577.5,"y":550},
{"m":"ai10","x":298,"y":266.5},{"m":"ai10","x":443.3,"y":400.6},{"m":"ai10","x":596.4,"y":526.1},
{"m":"ai11","x":316.3,"y":250},{"m":"ai11","x":461.8,"y":380.2},{"m":"ai11","x":615.3,"y":502.8},
{"m":"ai12","x":334.5,"y":234},{"m":"ai12","x":480.3,"y":360.5},{"m":"ai12","x":634,"y":479.7},
{"m":"ai13","x":352.7,"y":218.5},{"m":"ai13","x":498.7,"y":341.2},{"m":"ai13","x":652.6,"y":457.2},
{"m":"ai14","x":370.9,"y":203.7},{"m":"ai14","x":517,"y":322.5},{"m":"ai14","x":671,"y":435},
{"m":"ai15","x":389.2,"y":189.3},{"m":"ai15","x":535.3,"y":304.5},{"m":"ai15","x":689.4,"y":413.1},
{"m":"ai16","x":407.4,"y":175.9},{"m":"ai16","x":553.6,"y":287},{"m":"ai16","x":707.6,"y":391.8},
{"m":"ai17","x":425.7,"y":162.7},{"m":"ai17","x":571.8,"y":270.1},{"m":"ai17","x":725.8,"y":370.7},
{"m":"ai18","x":444,"y":150.2},{"m":"ai18","x":590,"y":253.7},{"m":"ai18","x":743.8,"y":350.2},
{"m":"aj1","x":130.8,"y":483.6},{"m":"aj1","x":303.9,"y":289.7},{"m":"aj1","x":477.3,"y":149.2},
{"m":"aj2","x":145.1,"y":502.6},{"m":"aj2","x":318.9,"y":304.4},{"m":"aj2","x":492.3,"y":160},
{"m":"aj3","x":159.4,"y":521.3},{"m":"aj3","x":334,"y":319},{"m":"aj3","x":507.4,"y":170.7},
{"m":"aj4","x":173.9,"y":539.7},{"m":"aj4","x":349.1,"y":333.5},{"m":"aj4","x":522.7,"y":181.2},
{"m":"aj5","x":188.4,"y":557.9},{"m":"aj5","x":364.3,"y":347.7},{"m":"aj5","x":537.9,"y":191.8},
{"m":"aj6","x":203,"y":575.7},{"m":"aj6","x":379.6,"y":361.9},{"m":"aj6","x":553.4,"y":202.2},
{"m":"aj7","x":217.8,"y":593.3},{"m":"aj7","x":395,"y":376.1},{"m":"aj7","x":568.9,"y":212.5},
{"m":"aj8","x":232.6,"y":610.6},{"m":"aj8","x":410.6,"y":390.1},{"m":"aj8","x":584.5,"y":222.8},
{"m":"aj9","x":247.5,"y":627.6},{"m":"aj9","x":426.2,"y":404},{"m":"aj9","x":600.1,"y":233},
{"m":"aj10","x":262.5,"y":644.3},{"m":"aj10","x":441.9,"y":417.9},{"m":"aj10","x":615.9,"y":243},
{"m":"aj11","x":277.6,"y":660.8},{"m":"aj11","x":457.7,"y":431.7},{"m":"aj11","x":631.7,"y":253},
{"m":"aj12","x":292.8,"y":676.9},{"m":"aj12","x":473.5,"y":445.3},{"m":"aj12","x":647.7,"y":263},
{"m":"aj13","x":308.2,"y":692.7},{"m":"aj13","x":489.4,"y":458.8},{"m":"aj13","x":663.7,"y":272.8},
{"m":"aj14","x":323.5,"y":708.4},{"m":"aj14","x":505.5,"y":472.3},{"m":"aj14","x":679.8,"y":282.5},
{"m":"aj15","x":339,"y":723.7},{"m":"aj15","x":521.6,"y":485.6},{"m":"aj15","x":696,"y":292},
{"m":"aj16","x":354.6,"y":738.6},{"m":"aj16","x":537.8,"y":498.9},{"m":"aj16","x":712.3,"y":301.8},
{"m":"aj17","x":370.3,"y":753.3},{"m":"aj17","x":554.1,"y":512},{"m":"aj17","x":728.7,"y":311.3},
{"m":"aj18","x":386,"y":767.9},{"m":"aj18","x":570.5,"y":525},{"m":"aj18","x":745.2,"y":320.7},
{"m":"b0","x":1072.3,"y":438.3},{"m":"b0","x":1091.7,"y":420},{"m":"b0","x":1110,"y":400},{"m":"b0","x":1130,"y":385},{"m":"b0","x":1148.3,"y":371.7},{"m":"b0","x":1168.3,"y":356.7},{"m":"b0","x":1186.7,"y":341.7},{"m":"b0","x":1205,"y":328.3},{"m":"b0","x":1223.3,"y":311.7},{"m":"b0","x":1242.7,"y":291.7},{"m":"b0","x":1261.7,"y":273.3},{"m":"b0","x":1280,"y":253.3},{"m":"b0","x":1298.3,"y":231.7},{"m":"b0","x":1316.7,"y":213.3},{"m":"b0","x":1335,"y":195},{"m":"b0","x":1352.7,"y":178.3},{"m":"b0","x":1371.7,"y":163.3},{"m":"b0","x":1389.3,"y":148.3},{"m":"b0","x":1406.7,"y":135},{"m":"b0","x":1424,"y":123.3},
{"m":"b1","x":1424,"y":123.3},{"m":"b1","x":1438.3,"y":140},{"m":"b1","x":1453.3,"y":163.3},{"m":"b1","x":1468.3,"y":185},{"m":"b1","x":1483.3,"y":203.3},{"m":"b1","x":1498.3,"y":223.3},{"m":"b1","x":1513.3,"y":241.7},{"m":"b1","x":1529,"y":260.5},{"m":"b1","x":1546.7,"y":276.7},{"m":"b1","x":1563.3,"y":295},{"m":"b1","x":1578.3,"y":310},{"m":"b1","x":1593.3,"y":326.7},{"m":"b1","x":1610,"y":341.7},{"m":"b1","x":1624,"y":355},{"m":"b1","x":1640,"y":367.3},{"m":"b1","x":1656.7,"y":383.3},{"m":"b1","x":1675,"y":396.7},{"m":"b1","x":1691.7,"y":408.3},{"m":"b1","x":1706.7,"y":420},{"m":"b1","x":1722.7,"y":428.3},
{"m":"b2","x":1722.7,"y":428.3},{"m":"b2","x":1710.5,"y":432},{"m":"b2","x":1698.3,"y":437.3},{"m":"b2","x":1676.7,"y":446.7},{"m":"b2","x":1655,"y":458.3},{"m":"b2","x":1633.3,"y":475},{"m":"b2","x":1615,"y":486.7},{"m":"b2","x":1595,"y":500},{"m":"b2","x":1575,"y":515},{"m":"b2","x":1555,"y":530},{"m":"b2","x":1537.3,"y":548.3},{"m":"b2","x":1518.3,"y":570},{"m":"b2","x":1501.7,"y":595},{"m":"b2","x":1481.7,"y":621.7},{"m":"b2","x":1461.7,"y":650},{"m":"b2","x":1441.7,"y":680},{"m":"b2","x":1421.7,"y":708.3},{"m":"b2","x":1403.3,"y":731.7},{"m":"b2","x":1388.3,"y":756.7},{"m":"b2","x":1366.7,"y":785},
{"m":"b3","x":1366.7,"y":785},{"m":"b3","x":1350,"y":778.3},{"m":"b3","x":1333.3,"y":766.7},{"m":"b3","x":1318.3,"y":753.3},{"m":"b3","x":1303.3,"y":738.3},{"m":"b3","x":1286.7,"y":721.7},{"m":"b3","x":1271.7,"y":706.7},{"m":"b3","x":1256.7,"y":691.7},{"m":"b3","x":1240,"y":675},{"m":"b3","x":1225,"y":656.7},{"m":"b3","x":1210,"y":638.3},{"m":"b3","x":1195,"y":618.3},{"m":"b3","x":1180,"y":598.3},{"m":"b3","x":1165,"y":577},{"m":"b3","x":1150,"y":556},{"m":"b3","x":1133.3,"y":534},{"m":"b3","x":1118.3,"y":511},{"m":"b3","x":1103.3,"y":486.7},{"m":"b3","x":1088.3,"y":461.7},{"m":"b3","x":1072.3,"y":438.3},
{"m":"bi1","x":1091.7,"y":420},{"m":"bi1","x":1236.5,"y":625.4},{"m":"bi1","x":1388.3,"y":756.7},
{"m":"bi2","x":1110,"y":400},{"m":"bi2","x":1255.4,"y":603.7},{"m":"bi2","x":1403.3,"y":731.7},
{"m":"bi3","x":1130,"y":385},{"m":"bi3","x":1274.2,"y":582.4},{"m":"bi3","x":1421.7,"y":708.3},
{"m":"bi4","x":1148.3,"y":371.7},{"m":"bi4","x":1293.1,"y":561.6},{"m":"bi4","x":1441.7,"y":680},
{"m":"bi5","x":1168.3,"y":356.7},{"m":"bi5","x":1311.9,"y":541.2},{"m":"bi5","x":1461.7,"y":650},
{"m":"bi6","x":1186.7,"y":341.7},{"m":"bi6","x":1330.6,"y":521.3},{"m":"bi6","x":1481.7,"y":621.7},
{"m":"bi7","x":1205,"y":328.3},{"m":"bi7","x":1349.4,"y":501.7},{"m":"bi7","x":1501.7,"y":595},
{"m":"bi8","x":1223.3,"y":311.7},{"m":"bi8","x":1368,"y":482.8},{"m":"bi8","x":1518.3,"y":570},
{"m":"bi9","x":1242.7,"y":291.7},{"m":"bi9","x":1386.7,"y":464.1},{"m":"bi9","x":1537.3,"y":548.3},
{"m":"bi10","x":1261.7,"y":273.3},{"m":"bi10","x":1405.3,"y":446},{"m":"bi10","x":1555,"y":530},
{"m":"bi11","x":1280,"y":253.3},{"m":"bi11","x":1423.9,"y":428.3},{"m":"bi11","x":1575,"y":515},
{"m":"bi12","x":1298.3,"y":231.7},{"m":"bi12","x":1442.4,"y":411},{"m":"bi12","x":1595,"y":500},
{"m":"bi13","x":1316.7,"y":213.3},{"m":"bi13","x":1460.9,"y":394.2},{"m":"bi13","x":1615,"y":486.7},
{"m":"bi14","x":1335,"y":195},{"m":"bi14","x":1479.3,"y":377.7},{"m":"bi14","x":1633.3,"y":475},
{"m":"bi15","x":1352.7,"y":178.3},{"m":"bi15","x":1497.7,"y":361.9},{"m":"bi15","x":1655,"y":458.3},
{"m":"bi16","x":1371.7,"y":163.3},{"m":"bi16","x":1516,"y":346.3},{"m":"bi16","x":1676.7,"y":446.7},
{"m":"bi17","x":1389.3,"y":148.3},{"m":"bi17","x":1534.4,"y":331.2},{"m":"bi17","x":1698.3,"y":437.3},
{"m":"bi18","x":1406.7,"y":135},{"m":"bi18","x":1552.7,"y":316.7},{"m":"bi18","x":1710.5,"y":432},
{"m":"bj1","x":1088.3,"y":461.7},{"m":"bj1","x":1266.9,"y":304.8},{"m":"bj1","x":1438.3,"y":140},
{"m":"bj2","x":1103.3,"y":486.7},{"m":"bj2","x":1281.8,"y":326.2},{"m":"bj2","x":1453.3,"y":163.3},
{"m":"bj3","x":1118.3,"y":511},{"m":"bj3","x":1296.8,"y":346.5},{"m":"bj3","x":1468.3,"y":185},
{"m":"bj4","x":1133.3,"y":534},{"m":"bj4","x":1311.9,"y":366},{"m":"bj4","x":1483.3,"y":203.3},
{"m":"bj5","x":1150,"y":556},{"m":"bj5","x":1327,"y":384.3},{"m":"bj5","x":1498.3,"y":223.3},
{"m":"bj6","x":1165,"y":577},{"m":"bj6","x":1342.2,"y":401.7},{"m":"bj6","x":1513.3,"y":241.7},
{"m":"bj7","x":1180,"y":598.3},{"m":"bj7","x":1357.5,"y":418.2},{"m":"bj7","x":1529,"y":260.5},
{"m":"bj8","x":1195,"y":618.3},{"m":"bj8","x":1372.9,"y":433.6},{"m":"bj8","x":1546.7,"y":276.7},
{"m":"bj9","x":1210,"y":638.3},{"m":"bj9","x":1388.3,"y":448.1},{"m":"bj9","x":1563.3,"y":295},
{"m":"bj10","x":1225,"y":656.7},{"m":"bj10","x":1403.7,"y":461.7},{"m":"bj10","x":1578.3,"y":310},
{"m":"bj11","x":1240,"y":675},{"m":"bj11","x":1419.3,"y":474.2},{"m":"bj11","x":1593.3,"y":326.7},
{"m":"bj12","x":1256.7,"y":691.7},{"m":"bj12","x":1435,"y":485.7},{"m":"bj12","x":1610,"y":341.7},
{"m":"bj13","x":1271.7,"y":706.7},{"m":"bj13","x":1450.6,"y":496.2},{"m":"bj13","x":1624,"y":355},
{"m":"bj14","x":1286.7,"y":721.7},{"m":"bj14","x":1466.3,"y":505.8},{"m":"bj14","x":1640,"y":367.3},
{"m":"bj15","x":1303.3,"y":738.3},{"m":"bj15","x":1482.1,"y":514.4},{"m":"bj15","x":1656.7,"y":383.3},
{"m":"bj16","x":1318.3,"y":753.3},{"m":"bj16","x":1498,"y":522.1},{"m":"bj16","x":1675,"y":396.7},
{"m":"bj17","x":1333.3,"y":766.7},{"m":"bj17","x":1514,"y":528.7},{"m":"bj17","x":1691.7,"y":408.3},
{"m":"bj18","x":1350,"y":778.3},{"m":"bj18","x":1530,"y":534.3},{"m":"bj18","x":1706.7,"y":420},
{"m":"c0","x":565,"y":1346.7},{"m":"c0","x":582.8,"y":1311.5},{"m":"c0","x":600.7,"y":1277.5},{"m":"c0","x":618.6,"y":1244.6},{"m":"c0","x":636.6,"y":1213},{"m":"c0","x":654.7,"y":1182.5},{"m":"c0","x":672.8,"y":1153.3},{"m":"c0","x":691,"y":1125.1},{"m":"c0","x":709.2,"y":1098.1},{"m":"c0","x":727.5,"y":1072.4},{"m":"c0","x":745.9,"y":1047.8},{"m":"c0","x":764.3,"y":1024.5},{"m":"c0","x":782.8,"y":1002.3},{"m":"c0","x":801.4,"y":981.3},{"m":"c0","x":820,"y":961.5},{"m":"c0","x":838.7,"y":942.8},{"m":"c0","x":857.4,"y":925.3},{"m":"c0","x":876.2,"y":909},{"m":"c0","x":895,"y":893.9},{"m":"c0","x":914,"y":880},
{"m":"c1","x":914,"y":880},{"m":"c1","x":931.2,"y":887.6},{"m":"c1","x":948.2,"y":895.3},{"m":"c1","x":965.2,"y":903},{"m":"c1","x":982,"y":910.8},{"m":"c1","x":998.8,"y":918.6},{"m":"c1","x":1015.5,"y":926.4},{"m":"c1","x":1032,"y":934.2},{"m":"c1","x":1048.5,"y":942},{"m":"c1","x":1065,"y":950.1},{"m":"c1","x":1081,"y":958},{"m":"c1","x":1097.3,"y":965.9},{"m":"c1","x":1113.3,"y":974},{"m":"c1","x":1129.3,"y":982},{"m":"c1","x":1145.1,"y":990.1},{"m":"c1","x":1160.9,"y":998.2},{"m":"c1","x":1176.6,"y":1006.4},{"m":"c1","x":1192,"y":1014.5},{"m":"c1","x":1207.6,"y":1022.8},{"m":"c1","x":1223,"y":1031},
{"m":"c2","x":1223,"y":1031},{"m":"c2","x":1204.4,"y":1041.6},{"m":"c2","x":1185.8,"y":1053.5},{"m":"c2","x":1167,"y":1066.9},{"m":"c2","x":1148.2,"y":1081.6},{"m":"c2","x":1129.3,"y":1097.9},{"m":"c2","x":1110.2,"y":1115.4},{"m":"c2","x":1091.1,"y":1134.4},{"m":"c2","x":1071.9,"y":1154.8},{"m":"c2","x":1052.7,"y":1176.6},{"m":"c2","x":1033.3,"y":1199.7},{"m":"c2","x":1013.9,"y":1224.4},{"m":"c2","x":994.3,"y":1250.4},{"m":"c2","x":974.7,"y":1277.8},{"m":"c2","x":954.9,"y":1306.6},{"m":"c2","x":935.1,"y":1336.8},{"m":"c2","x":915.2,"y":1368.4},{"m":"c2","x":895.2,"y":1401.4},{"m":"c2","x":875.2,"y":1435.9},{"m":"c2","x":855,"y":1471.7},
{"m":"c3","x":855,"y":1471.7},{"m":"c3","x":839,"y":1465.4},{"m":"c3","x":823.2,"y":1459.2},{"m":"c3","x":807.5,"y":1452.9},{"m":"c3","x":791.7,"y":1446.6},{"m":"c3","x":776.1,"y":1440.2},{"m":"c3","x":760.6,"y":1433.8},{"m":"c3","x":745,"y":1427.3},{"m":"c3","x":729.7,"y":1420.8},{"m":"c3","x":714.3,"y":1414.3},{"m":"c3","x":699.1,"y":1407.7},{"m":"c3","x":684,"y":1401},{"m":"c3","x":668.8,"y":1394.4},{"m":"c3","x":653.7,"y":1387.7},{"m":"c3","x":638.8,"y":1381},{"m":"c3","x":623.9,"y":1374},{"m":"c3","x":609,"y":1367.4},{"m":"c3","x":594.3,"y":1360.5},{"m":"c3","x":579.6,"y":1353.6},{"m":"c3","x":565,"y":1346.7},
{"m":"ci1","x":582.8,"y":1311.5},{"m":"ci1","x":726.1,"y":1373.5},{"m":"ci1","x":875.2,"y":1435.9},
{"m":"ci2","x":600.7,"y":1277.5},{"m":"ci2","x":745.6,"y":1337.5},{"m":"ci2","x":895.2,"y":1401.4},
{"m":"ci3","x":618.6,"y":1244.6},{"m":"ci3","x":765,"y":1302},{"m":"ci3","x":915.2,"y":1368.4},
{"m":"ci4","x":636.6,"y":1213},{"m":"ci4","x":784.4,"y":1269.9},{"m":"ci4","x":935.1,"y":1336.8},
{"m":"ci5","x":654.7,"y":1182.5},{"m":"ci5","x":803.8,"y":1238.4},{"m":"ci5","x":954.9,"y":1306.6},
{"m":"ci6","x":672.8,"y":1153.3},{"m":"ci6","x":823.1,"y":1208.4},{"m":"ci6","x":974.7,"y":1277.8},
{"m":"ci7","x":691,"y":1125.1},{"m":"ci7","x":842.5,"y":1179.8},{"m":"ci7","x":994.3,"y":1250.4},
{"m":"ci8","x":709.2,"y":1098.1},{"m":"ci8","x":862,"y":1152.8},{"m":"ci8","x":1013.9,"y":1224.4},
{"m":"ci9","x":727.5,"y":1072.4},{"m":"ci9","x":881,"y":1127.2},{"m":"ci9","x":1033.3,"y":1199.7},
{"m":"ci10","x":745.9,"y":1047.8},{"m":"ci10","x":900.4,"y":1103.2},{"m":"ci10","x":1052.7,"y":1176.6},
{"m":"ci11","x":764.3,"y":1024.5},{"m":"ci11","x":919.6,"y":1080.6},{"m":"ci11","x":1071.9,"y":1154.8},
{"m":"ci12","x":782.8,"y":1002.3},{"m":"ci12","x":938.9,"y":1059.7},{"m":"ci12","x":1091.1,"y":1134.4},
{"m":"ci13","x":801.4,"y":981.3},{"m":"ci13","x":958,"y":1040},{"m":"ci13","x":1110.2,"y":1115.4},
{"m":"ci14","x":820,"y":961.5},{"m":"ci14","x":977.2,"y":1021.9},{"m":"ci14","x":1129.3,"y":1097.9},
{"m":"ci15","x":838.7,"y":942.8},{"m":"ci15","x":996.5,"y":1005.4},{"m":"ci15","x":1148.2,"y":1081.6},
{"m":"ci16","x":857.4,"y":925.3},{"m":"ci16","x":1015.6,"y":990.3},{"m":"ci16","x":1167,"y":1066.9},
{"m":"ci17","x":876.2,"y":909},{"m":"ci17","x":1034.7,"y":976.6},{"m":"ci17","x":1185.8,"y":1053.5},
{"m":"ci18","x":895,"y":893.9},{"m":"ci18","x":1053.8,"y":964.6},{"m":"ci18","x":1204.4,"y":1041.6},
{"m":"cj1","x":579.6,"y":1353.6},{"m":"cj1","x":753,"y":1064.9},{"m":"cj1","x":931.2,"y":887.6},
{"m":"cj2","x":594.3,"y":1360.5},{"m":"cj2","x":769.3,"y":1070.1},{"m":"cj2","x":948.2,"y":895.3},
{"m":"cj3","x":609,"y":1367.4},{"m":"cj3","x":785.5,"y":1075.4},{"m":"cj3","x":965.2,"y":903},
{"m":"cj4","x":623.9,"y":1374},{"m":"cj4","x":801.8,"y":1081},{"m":"cj4","x":982,"y":910.8},
{"m":"cj5","x":638.8,"y":1381},{"m":"cj5","x":818,"y":1086.7},{"m":"cj5","x":998.8,"y":918.6},
{"m":"cj6","x":653.7,"y":1387.7},{"m":"cj6","x":834,"y":1092.7},{"m":"cj6","x":1015.5,"y":926.4},
{"m":"cj7","x":668.8,"y":1394.4},{"m":"cj7","x":850.3,"y":1098.8},{"m":"cj7","x":1032,"y":934.2},
{"m":"cj8","x":684,"y":1401},{"m":"cj8","x":866.5,"y":1105.1},{"m":"cj8","x":1048.5,"y":942},
{"m":"cj9","x":699.1,"y":1407.7},{"m":"cj9","x":882.6,"y":1111.6},{"m":"cj9","x":1065,"y":950.1},
{"m":"cj10","x":714.3,"y":1414.3},{"m":"cj10","x":898.8,"y":1118.4},{"m":"cj10","x":1081,"y":958},
{"m":"cj11","x":729.7,"y":1420.8},{"m":"cj11","x":914.9,"y":1125.3},{"m":"cj11","x":1097.3,"y":965.9},
{"m":"cj12","x":745,"y":1427.3},{"m":"cj12","x":931,"y":1132.5},{"m":"cj12","x":1113.3,"y":974},
{"m":"cj13","x":760.6,"y":1433.8},{"m":"cj13","x":947,"y":1139.8},{"m":"cj13","x":1129.3,"y":982},
{"m":"cj14","x":776.1,"y":1440.2},{"m":"cj14","x":963,"y":1147.3},{"m":"cj14","x":1145.1,"y":990.1},
{"m":"cj15","x":791.7,"y":1446.6},{"m":"cj15","x":979,"y":1155},{"m":"cj15","x":1160.9,"y":998.2},
{"m":"cj16","x":807.5,"y":1452.9},{"m":"cj16","x":995,"y":1163},{"m":"cj16","x":1176.6,"y":1006.4},
{"m":"cj17","x":823.2,"y":1459.2},{"m":"cj17","x":1011,"y":1171},{"m":"cj17","x":1192,"y":1014.5},
{"m":"cj18","x":839,"y":1465.4},{"m":"cj18","x":1027,"y":1179.5},{"m":"cj18","x":1207.6,"y":1022.8}
],
"pts":[
{"x":462.3,"y":136.7},{"x":290,"y":273.7},{"x":114.3,"y":470},{"x":608.7,"y":237.7},{"x":766.7,"y":324},{"x":434.3,"y":411.3},{"x":586.7,"y":538.3},{"x":255,"y":636},{"x":403.3,"y":788.3},
{"x":1424,"y":121},{"x":1250.7,"y":282.7},{"x":1396,"y":455.3},{"x":1549.2,"y":540.7},{"x":1365,"y":789.3},{"x":1216,"y":649},{"x":1725.7,"y":429.3},{"x":1570,"y":301.7},
{"x":914,"y":878.3},{"x":737.3,"y":1060.7},{"x":560,"y":1346},{"x":1073,"y":954.6},{"x":1230.6,"y":1031.4},{"x":890.7,"y":1115},{"x":1045,"y":1188.3},{"x":706.7,"y":1415.7},{"x":852.7,"y":1477.7}
],
"legend":[
{"x":805,"y":313.7,"b":"r1","s":"> 60"},{"x":805,"y":344.8,"b":"r4","s":"< 59"},{"x":805,"y":376.3,"b":"y1","s":"< 57"},{"x":805,"y":407.8,"b":"g1","s":"< 55"},{"x":805,"y":439.3,"b":"g3","s":"< 53"},{"x":805,"y":470.5,"b":"g5","s":"< 51"},
{"x":1758,"y":264.5,"b":"r1","s":"> 64"},{"x":1758,"y":295.8,"b":"c2","s":"< 63"},{"x":1758,"y":327.2,"b":"r5","s":"< 61"},{"x":1758,"y":358.5,"b":"y1","s":"< 59"},{"x":1758,"y":390,"b":"l3","s":"< 57"},{"x":1758,"y":421.4,"b":"g2","s":"< 55"},{"x":1758,"y":452.8,"b":"g6","s":"< 53"},{"x":1758,"y":484.2,"b":"g5","s":"< 51"},
{"x":1283,"y":979,"b":"r1","s":"> 60"},{"x":1283,"y":1012,"b":"c1","s":"< 60"},{"x":1283,"y":1044.7,"b":"r6","s":"< 58"},{"x":1283,"y":1077.3,"b":"y3","s":"< 56"},{"x":1283,"y":1110,"b":"g1","s":"< 54"},{"x":1283,"y":1142.4,"b":"g3","s":"< 52"},{"x":1283,"y":1175.3,"b":"g5","s":"< 50"}
],
"labels":[
{"t":"z","s":"64","x":71,"y":225},{"t":"z","s":"62","x":74,"y":283.9},{"t":"z","s":"60","x":77,"y":340},{"t":"z","s":"58","x":80,"y":396.4},{"t":"z","s":"56","x":83,"y":452.6},{"t":"z","s":"54","x":86,"y":506},{"t":"z","s":"52","x":89,"y":559.7},
{"t":"z","s":"68","x":1029,"y":222},{"t":"z","s":"66","x":1031.4,"y":266.7},{"t":"z","s":"64","x":1033,"y":313},{"t":"z","s":"62","x":1036,"y":356},{"t":"z","s":"60","x":1039,"y":401.7},{"t":"z","s":"58","x":1042,"y":444.6},{"t":"z","s":"56","x":1043.7,"y":487.4},{"t":"z","s":"54","x":1046,"y":530},{"t":"z","s":"52","x":1048,"y":572},
{"t":"z","s":"62","x":510.6,"y":998},{"t":"z","s":"60","x":513.8,"y":1058},{"t":"z","s":"58","x":517,"y":1115},{"t":"z","s":"56","x":520,"y":1173},{"t":"z","s":"54","x":523,"y":1229},{"t":"z","s":"52","x":526,"y":1286},{"t":"z","s":"50","x":529.4,"y":1343},
{"t":"up","s":"120","x":86,"y":616},{"t":"up","s":"115","x":153,"y":664},{"t":"up","s":"110","x":222.4,"y":715},{"t":"up","s":"105","x":290.6,"y":771.3},{"t":"up","s":"100","x":367.7,"y":822},
{"t":"up","s":"10","x":431.8,"y":824.8},{"t":"up","s":"15","x":522,"y":776.7},{"t":"up","s":"20","x":611,"y":733.8},{"t":"up","s":"25","x":694,"y":688.3},{"t":"up","s":"30","x":778,"y":648},
{"t":"up","s":"10","x":1392.6,"y":824.8},{"t":"up","s":"15","x":1486.9,"y":776.7},{"t":"up","s":"20","x":1575.2,"y":733.8},{"t":"up","s":"25","x":1657.8,"y":688.3},{"t":"up","s":"30","x":1740.3,"y":648},
{"t":"up","s":"10","x":879.4,"y":1618},{"t":"up","s":"15","x":975,"y":1570},{"t":"up","s":"20","x":1065,"y":1526.4},{"t":"up","s":"25","x":1156,"y":1479},{"t":"up","s":"30","x":1238.8,"y":1431.8},
{"t":"dn","s":"10","x":1047.9,"y":610.6},{"t":"dn","s":"9","x":1102.7,"y":652.4},{"t":"dn","s":"8","x":1156.9,"y":693.6},{"t":"dn","s":"7","x":1217,"y":734.9},{"t":"dn","s":"6","x":1270.6,"y":779.3},{"t":"dn","s":"5","x":1330.7,"y":822},
{"t":"dn","s":"70","x":566.9,"y":1426.3},{"t":"dn","s":"65","x":628,"y":1472},{"t":"dn","s":"60","x":690,"y":1519.7},{"t":"dn","s":"55","x":752.5,"y":1568},{"t":"dn","s":"50","x":818.8,"y":1616.5},
{"t":"fe","s":"Fe recovery (%)","x":29,"y":425},{"t":"fe","s":"Fe recovery (%)","x":979,"y":432},{"t":"fe","s":"Fe recovery (%)","x":462,"y":1192},
{"t":"time","s":"Time (min)","x":636,"y":774},{"t":"time","s":"Time (min)","x":1617.7,"y":769.7},{"t":"time","s":"Time (min)","x":1110.6,"y":1562.6},
{"t":"temp","s":"Temperature  (ºC)","x":163,"y":760.6},{"t":"temp","s":"L:S ratio","x":1093.8,"y":709.7},{"t":"temp","s":"r₀ (µm)","x":608.8,"y":1533},
{"t":"title","s":"L:S = 7.5, r₀ = 61 µm","x":421,"y":24},{"t":"title","s":"T = 110 ºC, r₀ = 61 µm","x":1414,"y":24},{"t":"title","s":"T = 110 ºC, L:S = 7.5","x":911.6,"y":800},
{"t":"tag","s":"(a)","x":721,"y":126},{"t":"tag","s":"(b)","x":1731,"y":122},{"t":"tag","s":"(c)","x":1202.5,"y":907}
]
},
"encoding":{
"x":{"field":"x","type":"quantitative","scale":{"domain":[0,1854],"nice":false,"zero":false},"axis":null},
"y":{"field":"y","type":"quantitative","scale":{"domain":[1642,0],"nice":false,"zero":false},"axis":null}
},
"layer":[
{"data":{"name":"grid"},"mark":{"type":"rule","color":"#d9d9d9","strokeWidth":2},"encoding":{"x2":{"field":"x2"},"y2":{"field":"y2"}}},
{"data":{"name":"axes"},"mark":{"type":"rule","color":"#1c1c1c","strokeWidth":2},"encoding":{"x2":{"field":"x2"},"y2":{"field":"y2"}}},
{"data":{"name":"poly"},"mark":{"type":"line","strokeOpacity":0,"order":false},"encoding":{"detail":{"field":"g"},"fill":{"field":"b","type":"nominal","legend":null,"scale":{"domain":["r1","r2","r3","r4","r5","r6","r7","c1","c2","o1","o2","y1","y2","y3","l1","l2","l3","l4","g1","g2","g3","g4","g5","g6"],"range":["#8f0000","#b00000","#d80000","#ff0000","#ff3c00","#ff2800","#a00000","#cc0000","#e60000","#ff6a00","#ff8c00","#ffdc00","#fff000","#ffff00","#c0ff00","#d2ff00","#66ff00","#b0ff00","#00ff00","#00dc00","#00a000","#006f22","#006040","#008400"]}}}},
{"data":{"name":"mesh"},"mark":{"type":"line","color":"#000000","strokeWidth":2,"interpolate":"natural","order":false},"encoding":{"detail":{"field":"m"}}},
{"data":{"name":"pts"},"mark":{"type":"point","shape":"circle","size":120,"filled":false,"stroke":"#1414d2","strokeWidth":2.2,"opacity":1}},
{"data":{"name":"legend"},"mark":{"type":"rect","width":41,"height":24.5,"stroke":"#d2d2c4","strokeWidth":1},"encoding":{"fill":{"field":"b","type":"nominal","legend":null}}},
{"data":{"name":"legend"},"mark":{"type":"text","align":"left","baseline":"middle","dx":33,"font":"Liberation Sans","fontSize":27,"color":"#1a1a1a"},"encoding":{"text":{"field":"s"}}},
{"data":{"name":"labels"},"transform":[{"filter":"datum.t=='z'"}],"mark":{"type":"text","font":"Liberation Serif","fontSize":32,"angle":340,"color":"#1a1a1a"},"encoding":{"text":{"field":"s"}}},
{"data":{"name":"labels"},"transform":[{"filter":"datum.t=='up'"}],"mark":{"type":"text","font":"Liberation Serif","fontSize":30,"angle":325,"color":"#1a1a1a"},"encoding":{"text":{"field":"s"}}},
{"data":{"name":"labels"},"transform":[{"filter":"datum.t=='dn'"}],"mark":{"type":"text","font":"Liberation Serif","fontSize":30,"angle":32,"color":"#1a1a1a"},"encoding":{"text":{"field":"s"}}},
{"data":{"name":"labels"},"transform":[{"filter":"datum.t=='fe'"}],"mark":{"type":"text","font":"Liberation Serif","fontSize":34,"angle":88,"color":"#1a1a1a"},"encoding":{"text":{"field":"s"}}},
{"data":{"name":"labels"},"transform":[{"filter":"datum.t=='time'"}],"mark":{"type":"text","font":"Liberation Serif","fontSize":35,"angle":333,"color":"#1a1a1a"},"encoding":{"text":{"field":"s"}}},
{"data":{"name":"labels"},"transform":[{"filter":"datum.t=='temp'"}],"mark":{"type":"text","font":"Liberation Serif","fontSize":33,"angle":36,"color":"#1a1a1a"},"encoding":{"text":{"field":"s"}}},
{"data":{"name":"labels"},"transform":[{"filter":"datum.t=='title'"}],"mark":{"type":"text","font":"Liberation Serif","fontSize":39.5,"color":"#1a1a1a"},"encoding":{"text":{"field":"s"}}},
{"data":{"name":"labels"},"transform":[{"filter":"datum.t=='tag'"}],"mark":{"type":"text","font":"Liberation Serif","fontSize":58,"color":"#111111"},"encoding":{"text":{"field":"s"}}}
]}
